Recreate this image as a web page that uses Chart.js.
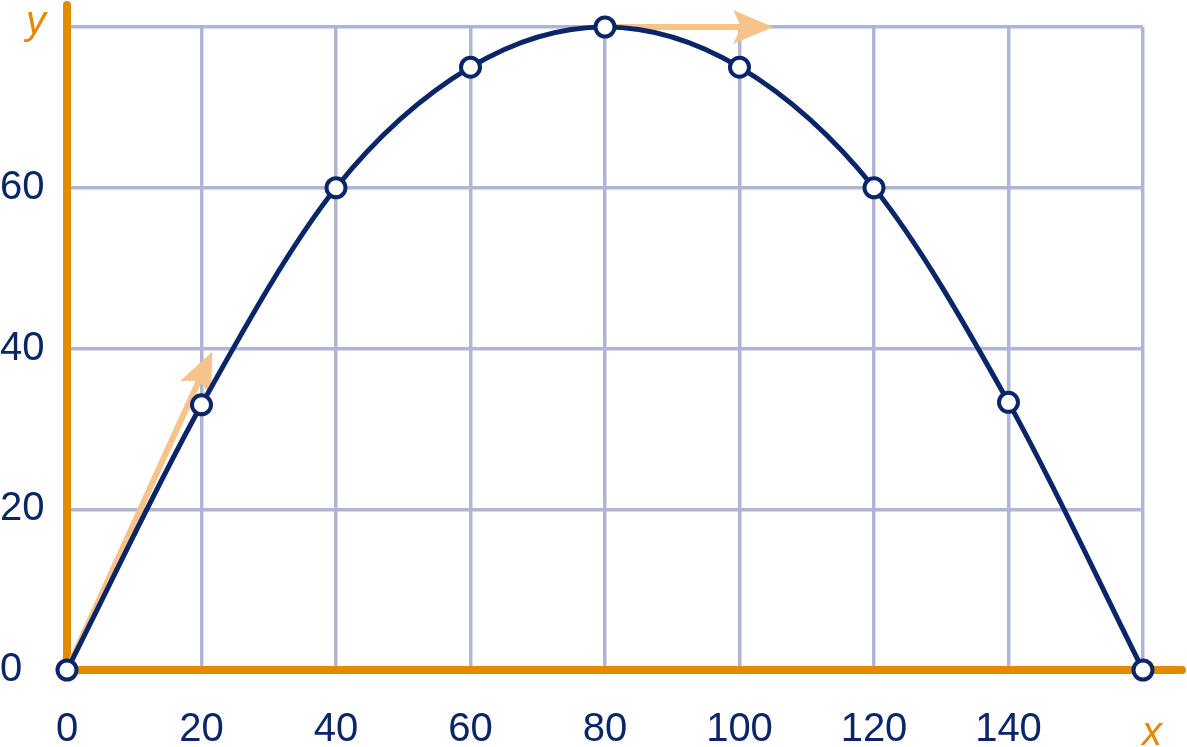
<!DOCTYPE html>
<html>
<head>
<meta charset="utf-8">
<script src="https://cdn.jsdelivr.net/npm/chart.js@4.4.1/dist/chart.umd.min.js"></script>
<style>
  html, body { margin: 0; padding: 0; background: #fff; }
  #chart { display: block; }
</style>
</head>
<body>
<canvas id="chart" width="1187" height="747"></canvas>
<script>
// curve points
const xValues = [0, 20, 40, 60, 80, 100, 120, 140, 160];
const yValues = [0, 33, 60, 75, 80, 75, 60, 33.3, 0];

// tick values and labels (last ones are left blank, "x" / "y" sit there)
const xTickValues = [0, 20, 40, 60, 80, 100, 120, 140, 160];
const xTickLabels = ["0", "20", "40", "60", "80", "100", "120", "140", ""];
const yTickValues = [0, 20, 40, 60, 80];
const yTickLabels = ["0", "20", "40", "60", ""];

// velocity arrows, in data units
const arrowFrom = [[0, 0], [80, 80]];
const arrowTo = [[21.6, 39.6], [105, 80]];

const NAVY = "#0a2668";
const ORANGE = "#e38a00";
const GRID = "#b0b5d5";
const ARROW = "#f6c48a";
const FONT = { family: "'Liberation Sans', Arial, sans-serif", size: 40 };

function drawArrow(ctx, x1, y1, x2, y2) {
  const dx = x2 - x1, dy = y2 - y1;
  const len = Math.hypot(dx, dy);
  const ux = dx / len, uy = dy / len;
  const px = -uy, py = ux;
  const headLen = 40, halfW = 17, notch = 8;
  ctx.strokeStyle = ARROW;
  ctx.fillStyle = ARROW;
  ctx.lineWidth = 6;
  ctx.lineCap = "butt";
  ctx.beginPath();
  ctx.moveTo(x1, y1);
  ctx.lineTo(x2 - ux * (headLen - notch), y2 - uy * (headLen - notch));
  ctx.stroke();
  const bx = x2 - ux * headLen, by = y2 - uy * headLen;
  ctx.beginPath();
  ctx.moveTo(x2, y2);
  ctx.lineTo(bx + px * halfW, by + py * halfW);
  ctx.lineTo(x2 - ux * (headLen - notch), y2 - uy * (headLen - notch));
  ctx.lineTo(bx - px * halfW, by - py * halfW);
  ctx.closePath();
  ctx.fill();
}

const overlayPlugin = {
  id: "overlay",
  beforeDatasetsDraw(chart) {
    const { ctx, scales: { x, y } } = chart;
    const x0 = x.getPixelForValue(0);
    const y0 = y.getPixelForValue(0);
    ctx.save();
    // orange axes
    ctx.strokeStyle = ORANGE;
    ctx.lineWidth = 8;
    ctx.lineCap = "round";
    ctx.beginPath();
    ctx.moveTo(x0, y0);
    ctx.lineTo(x0, 5);
    ctx.stroke();
    ctx.beginPath();
    ctx.moveTo(x0, y0);
    ctx.lineTo(chart.width - 5, y0);
    ctx.stroke();
    // arrows
    arrowFrom.forEach((a, i) => {
      const b = arrowTo[i];
      drawArrow(ctx,
        x.getPixelForValue(a[0]), y.getPixelForValue(a[1]),
        x.getPixelForValue(b[0]), y.getPixelForValue(b[1]));
    });
    ctx.restore();
  },
  afterDraw(chart) {
    const { ctx, scales: { x } } = chart;
    ctx.save();
    ctx.fillStyle = ORANGE;
    ctx.font = "italic 40px 'Liberation Sans', Arial, sans-serif";
    ctx.textBaseline = "alphabetic";
    ctx.textAlign = "left";
    ctx.fillText("y", 26, 34);
    ctx.fillText("x", x.getPixelForValue(160) - 1, 745);
    ctx.restore();
  }
};

function noPad(axis) {
  axis.paddingTop = 0;
  axis.paddingBottom = 0;
  axis.paddingLeft = 0;
  axis.paddingRight = 0;
}

const ctx = document.getElementById("chart").getContext("2d");
new Chart(ctx, {
  type: "line",
  data: {
    datasets: [
      {
        data: xValues.map((v, i) => ({ x: v, y: yValues[i] })),
        borderColor: NAVY,
        borderWidth: 5,
        cubicInterpolationMode: "monotone",
        pointRadius: 9.5,
        pointBorderWidth: 4,
        pointBackgroundColor: "#fff",
        pointBorderColor: NAVY,
        clip: false,
      },
    ],
  },
  options: {
    responsive: false,
    animation: false,
    layout: { padding: { top: 27, right: 44, left: 0, bottom: 0 } },
    plugins: {
      legend: { display: false },
      tooltip: { enabled: false },
    },
    scales: {
      x: {
        type: "linear",
        min: 0,
        max: 160,
        border: { display: false },
        grid: { color: GRID, lineWidth: 3.5, drawTicks: false },
        afterBuildTicks: (axis) => {
          axis.ticks = xTickValues.map((v) => ({ value: v }));
        },
        ticks: {
          padding: 36,
          color: NAVY,
          font: FONT,
          maxRotation: 0,
          autoSkip: false,
          callback: (value, index) => xTickLabels[index],
        },
        afterFit: (axis) => {
          axis.height = 77;
          noPad(axis);
        },
      },
      y: {
        min: 0,
        max: 80,
        border: { display: false },
        grid: { color: GRID, lineWidth: 3.5, drawTicks: false },
        afterBuildTicks: (axis) => {
          axis.ticks = yTickValues.map((v) => ({ value: v }));
        },
        ticks: {
          crossAlign: "far",
          padding: 20,
          color: NAVY,
          font: FONT,
          autoSkip: false,
          callback: (value, index) => yTickLabels[index],
        },
        afterFit: (axis) => {
          axis.width = 67;
          noPad(axis);
        },
      },
    },
  },
  plugins: [overlayPlugin],
});
</script>
</body>
</html>
